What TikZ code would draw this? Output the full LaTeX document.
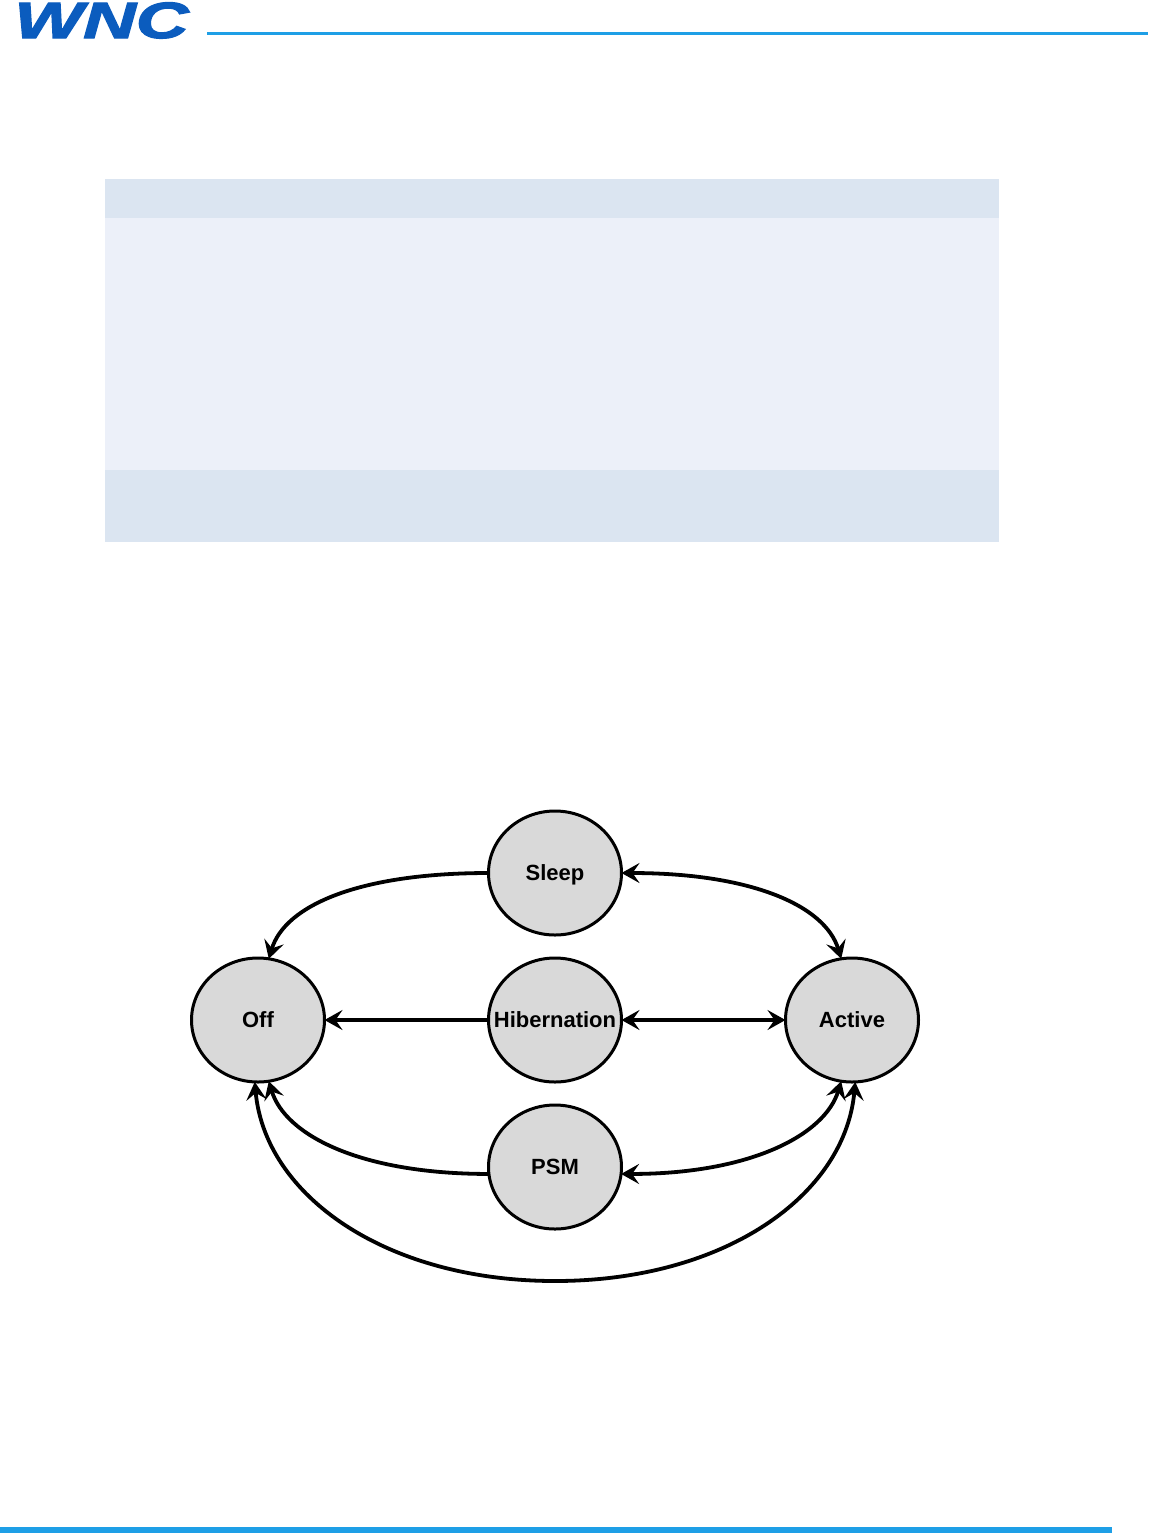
\documentclass[tikz,border=0pt]{standalone}
\usepackage{fontspec}
\setmainfont{Liberation Sans}
\newfontfamily\logofont{Liberation Sans}[BoldItalicFeatures={FakeBold=2.2}]
\usetikzlibrary{arrows.meta,shapes.geometric}
\definecolor{logoblue}{HTML}{0B5CBE}
\definecolor{rulecol}{HTML}{1E9FE6}
\definecolor{rowdark}{HTML}{DBE5F1}
\definecolor{rowlight}{HTML}{ECF0F9}
\definecolor{stategray}{HTML}{D9D9D9}
\tikzset{
  state/.style={ellipse,draw=black,fill=stategray,line width=1.5pt,minimum width=66.5pt,minimum height=62pt,inner sep=0pt,outer sep=0pt,font=\fontsize{11}{13}\selectfont\bfseries},
  link/.style={line width=1.9pt,draw=black,-{Stealth[length=9pt,width=10pt,inset=3.5pt]}},
  dlink/.style={line width=1.9pt,draw=black,{Stealth[length=9pt,width=10pt,inset=3.5pt]}-{Stealth[length=9pt,width=10pt,inset=3.5pt]}}
}
\newcommand{\stlabel}[1]{\makebox[0pt]{\raisebox{-3.7pt}[0pt][0pt]{#1}}}
\begin{document}
\begin{tikzpicture}[x=0.5pt,y=-0.5pt]
\useasboundingbox (0,0) rectangle (1148,1533);
\fill[white] (0,0) rectangle (1148,1533);
\node[anchor=base,inner sep=0pt,text=logoblue,xscale=1.43,font=\fontsize{25.5}{26}\logofont\bfseries\itshape] (logo) at (101.5,38) {WNC};
\fill[rulecol] (207,31.5) rectangle (1148,35);
\fill[rulecol] (0,1527) rectangle (1112,1533);
\fill[rowdark] (105,179) rectangle (999,218);
\fill[rowlight] (105,218) rectangle (999,470);
\fill[rowdark] (105,470) rectangle (999,542);
\node[state] (sleep) at (555,873) {\stlabel{Sleep}};
\node[state] (off) at (258,1020) {\stlabel{Off}};
\node[state] (hib) at (555,1020) {\stlabel{Hibernation}};
\node[state] (active) at (852,1020) {\stlabel{Active}};
\node[state] (psm) at (555,1167) {\stlabel{PSM}};
\draw[link] (sleep.west) .. controls (360,873) and (285,905) .. (off.80);
\draw[dlink] (sleep.east) .. controls (750,873) and (825,905) .. (active.100);
\draw[link] (hib.west) -- (off.east);
\draw[dlink] (hib.east) -- (active.west);
\draw[link] (psm.186) .. controls (360,1174) and (285,1135) .. (off.-80);
\draw[dlink] (psm.-6) .. controls (750,1174) and (825,1135) .. (active.-100);
\draw[dlink] (off.-93) .. controls (265,1195) and (385,1281) .. (555,1281) .. controls (725,1281) and (845,1195) .. (active.-87);
\end{tikzpicture}
\end{document}
